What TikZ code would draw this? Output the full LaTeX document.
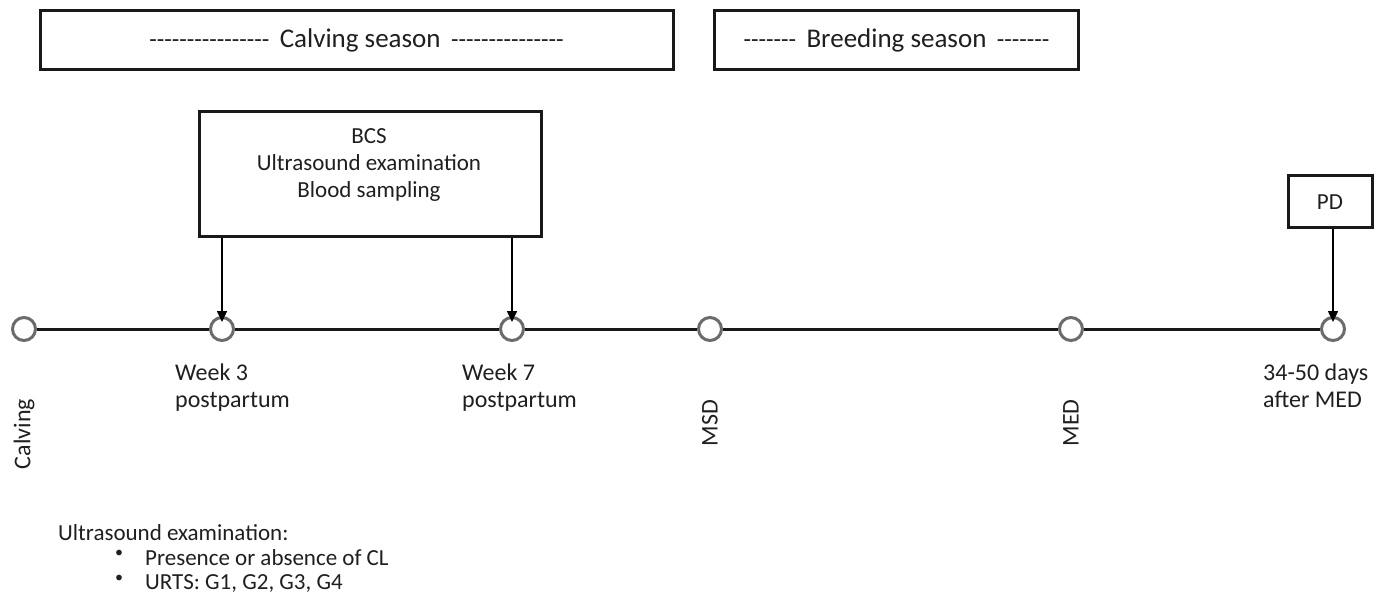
\documentclass[tikz,border=0pt]{standalone}
\usepackage{fontspec}
\setmainfont{Carlito}[Ligatures=TeXOff]
\usetikzlibrary{arrows.meta}
\newcommand\dsh{\fontsize{24.5}{27}\selectfont}
\newcommand\stx{\fontsize{27}{30}\selectfont}
\begin{document}
\begin{tikzpicture}[x=1pt,y=-1pt,
  every node/.style={font=\fontsize{23}{27}\selectfont, inner sep=0pt, text=black!88},
  box/.style={draw=black!90, line width=3pt, rectangle, align=center},
  pt/.style={draw=black!58, line width=3pt, circle, minimum size=23pt, fill=white},
  tl/.style={line width=3pt, black!90},
  arr/.style={line width=1.6pt, -{Triangle[length=11pt,width=10pt]}},
  lab/.style={align=left, anchor=north west, font=\fontsize{24}{27}\selectfont},
  rlab/.style={rotate=90, anchor=center, font=\fontsize{24}{27}\selectfont}]
\useasboundingbox (0,0) rectangle (1385,596);
% season boxes
\node[box, minimum width=633pt, minimum height=59pt] (calv) at (356.5,40) {{\dsh----------------}\ \ {\stx Calving season}\ \ {\dsh---------------}};
\node[box, minimum width=364pt, minimum height=59pt] (breed) at (896.5,40) {{\dsh-------}\ \ {\stx Breeding season}\ \ {\dsh-------}};
% measurement boxes
\node[box, minimum width=342pt, minimum height=125pt, anchor=north west] (bcs) at (198,110) {};
\node[align=center, anchor=north] (bcstxt) at (369,128) {BCS\\Ultrasound examination\\Blood sampling};
\node[box, minimum width=84pt, minimum height=52pt] (pd) at (1330,202) {PD};
% timeline
\node[pt] (c0) at (24,329) {};
\node[pt] (c1) at (222,329) {};
\node[pt] (c2) at (512,329) {};
\node[pt] (c3) at (710,329) {};
\node[pt] (c4) at (1071,329) {};
\node[pt] (c5) at (1333,329) {};
\draw[tl] (c0) -- (c1);
\draw[tl] (c1) -- (c2);
\draw[tl] (c2) -- (c3);
\draw[tl] (c3) -- (c4);
\draw[tl] (c4) -- (c5);
% arrows
\draw[arr] (bcs.south -| c1) -- ([yshift=-6pt]c1.north);
\draw[arr] (bcs.south -| c2) -- ([yshift=-6pt]c2.north);
\draw[arr] (pd.south -| c5) -- ([yshift=-6pt]c5.north);
% labels
\node[lab] (l1) at (175,364) {Week 3\\postpartum};
\node[lab] (l2) at (462,364) {Week 7\\postpartum};
\node[lab] (l5) at (1263,364) {34-50 days\\after MED};
\node[rlab] (l0) at (24,434) {Calving};
\node[rlab] (l3) at (710,423) {MSD};
\node[rlab] (l4) at (1071,423) {MED};
% note
\node[anchor=north west] (n0) at (58,524) {Ultrasound examination:};
\node[anchor=north west] (b1) at (115,550) {\fontsize{16}{20}\selectfont\textbullet};
\node[anchor=north west] (n1) at (145,549) {Presence or absence of CL};
\node[anchor=north west] (b2) at (115,575) {\fontsize{16}{20}\selectfont\textbullet};
\node[anchor=north west] (n2) at (145,574) {URTS: G1, G2, G3, G4};
\end{tikzpicture}
\end{document}
